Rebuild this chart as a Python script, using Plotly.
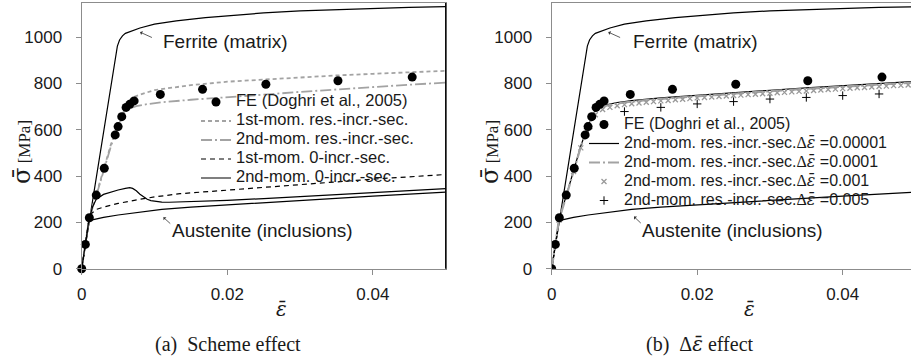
import plotly.graph_objects as go

# ---------------- data (strain, stress in MPa) ----------------
# FE reference points (Doghri et al., 2005)
fe_eps = [0, 0.0005, 0.00105, 0.002, 0.0031, 0.0046, 0.005, 0.0055, 0.0061, 0.0066, 0.0072,
          0.0108, 0.0166, 0.0253, 0.0352, 0.0454, 0.0502]
fe_sig = [0, 105, 220, 318, 434, 578, 614, 657, 697, 710, 725,
          753, 775, 797, 812, 828, 833]

# Ferrite (matrix) phase response
fer_eps = [0, 0.0046, 0.0049, 0.0052, 0.0056, 0.006, 0.007, 0.008, 0.01, 0.013, 0.017, 0.02,
           0.025, 0.03, 0.035, 0.04, 0.045, 0.05]
fer_sig = [0, 920, 962, 988, 1006, 1017, 1030, 1040, 1057, 1071, 1085, 1093,
           1105, 1114, 1120, 1125, 1129, 1132]

# Austenite (inclusions) phase response
aus_eps = [0, 0.00102, 0.0013, 0.002, 0.003, 0.005, 0.008, 0.011, 0.015, 0.02, 0.025, 0.03,
           0.035, 0.04, 0.045, 0.05]
aus_sig = [0, 204, 210, 216, 222, 232, 245, 256, 266, 276, 286, 296, 305, 314, 322, 331]

# (a) scheme comparison
m1_res_eps = [0, 0.001, 0.002, 0.003, 0.004, 0.005, 0.006, 0.0065, 0.007, 0.008, 0.01, 0.015,
              0.02, 0.025, 0.03, 0.035, 0.04, 0.045, 0.05]
m1_res_sig = [0, 214, 320, 428, 535, 630, 695, 725, 740, 752, 772, 793,
              808, 818, 827, 835, 842, 849, 855]

m2_res_eps = [0, 0.001, 0.002, 0.003, 0.004, 0.005, 0.0058, 0.0065, 0.0075, 0.009, 0.011,
              0.015, 0.02, 0.025, 0.03, 0.035, 0.04, 0.045, 0.05]
m2_res_sig = [0, 212, 315, 425, 528, 618, 672, 692, 702, 711, 719,
              730, 740, 752, 764, 775, 785, 795, 804]

m1_zero_eps = [0, 0.001, 0.0014, 0.002, 0.003, 0.005, 0.008, 0.01, 0.0135, 0.02, 0.025, 0.03,
               0.035, 0.04, 0.045, 0.05]
m1_zero_sig = [0, 212, 240, 256, 266, 282, 300, 310, 324, 340, 352, 364,
               376, 387, 397, 407]

m2_zero_eps = [0, 0.001, 0.0015, 0.002, 0.003, 0.004, 0.005, 0.006, 0.0066, 0.007, 0.0075,
               0.008, 0.0085, 0.009, 0.0095, 0.01, 0.011, 0.012, 0.015, 0.02, 0.025, 0.03,
               0.035, 0.04, 0.045, 0.05]
m2_zero_sig = [0, 212, 268, 300, 321, 332, 340, 347, 350, 347, 337,
               322, 310, 300, 294, 291, 288, 287, 289, 295, 303, 312,
               320, 328, 337, 346]

# (b) increment size comparison, 2nd-moment res.-incr.-sec.
d1_eps = [0, 0.001, 0.002, 0.003, 0.004, 0.005, 0.0058, 0.0065, 0.0075, 0.009, 0.011, 0.015,
          0.02, 0.025, 0.03, 0.035, 0.04, 0.045, 0.05]
d1_sig = [0, 212, 315, 425, 530, 620, 675, 697, 708, 718, 726, 738,
          750, 761, 771, 781, 791, 800, 809]

d2_eps = [0, 0.001, 0.002, 0.003, 0.004, 0.005, 0.0058, 0.0065, 0.0075, 0.009, 0.011, 0.015,
          0.02, 0.025, 0.03, 0.035, 0.04, 0.045, 0.05]
d2_sig = [0, 211, 313, 423, 527, 616, 671, 693, 704, 714, 722, 734,
          746, 757, 767, 777, 787, 796, 805]

d3_eps = [0, 0.001, 0.002, 0.003, 0.004, 0.005, 0.006, 0.007, 0.008, 0.009, 0.010,
          0.011, 0.012, 0.013, 0.014, 0.015, 0.016, 0.017, 0.018, 0.019, 0.020,
          0.021, 0.022, 0.023, 0.024, 0.025, 0.026, 0.027, 0.028, 0.029, 0.030,
          0.031, 0.032, 0.033, 0.034, 0.035, 0.036, 0.037, 0.038, 0.039, 0.040,
          0.041, 0.042, 0.043, 0.044, 0.045, 0.046, 0.047, 0.048, 0.049, 0.050]
d3_sig = [0, 210, 312, 420, 522, 610, 665, 688, 697, 704, 709,
          713, 716, 719, 722, 725, 727, 730, 732, 735, 738,
          740, 742, 744, 746, 748, 750, 752, 754, 756, 758,
          760, 762, 764, 766, 768, 770, 772, 774, 776, 778,
          780, 782, 783, 785, 787, 789, 791, 792, 794, 796]

d4_eps = [0, 0.005, 0.01, 0.015, 0.02, 0.025, 0.03, 0.035, 0.04, 0.045, 0.05]
d4_sig = [0, 605, 679, 697, 712, 722, 733, 740, 748, 755, 761]

x_ticks = [0, 0.02, 0.04]
x_tick_text = ["0", "0.02", "0.04"]
y_ticks = [0, 200, 400, 600, 800, 1000]
y_tick_text = ["0", "200", "400", "600", "800", "1000"]

# ---------------- styling ----------------
SANS = "Liberation Sans, Arial, sans-serif"
SERIF = "Liberation Serif, Times New Roman, serif"
MARKF = "DejaVu Serif, serif"          # handles the combining macron cleanly
GRAY = "#a3a3a3"
AXIS_GRAY = "#8c8c8c"
TXT = "#1a1a1a"
W, H = 911, 363

EPS_BAR = f'<span style="font-family:{MARKF}"><i>ε̄</i></span>'
SIG_BAR = f'<span style="font-family:{MARKF};font-size:24px">σ̄</span>'


def leg(label, size=16.5):
    return f'<span style="font-size:{size}px">{label}</span>'


def dlabel(value):
    return leg(f'2nd-mom. res.-incr.-sec.<span style="font-family:{SERIF}">Δ</span>{EPS_BAR} ={value}', 16)


fig = go.Figure()

for xa, ya in (("x", "y"), ("x2", "y2")):
    fig.add_trace(go.Scatter(x=fer_eps, y=fer_sig, mode="lines", xaxis=xa, yaxis=ya,
                             line=dict(color="black", width=1.2), showlegend=False, hoverinfo="skip"))
    fig.add_trace(go.Scatter(x=aus_eps, y=aus_sig, mode="lines", xaxis=xa, yaxis=ya,
                             line=dict(color="black", width=1.2), showlegend=False, hoverinfo="skip"))

# panel (a)
fig.add_trace(go.Scatter(x=m1_res_eps, y=m1_res_sig, mode="lines", name=leg("1st-mom. res.-incr.-sec."),
                         line=dict(color=GRAY, width=1.8, dash="4px,3px"), legend="legend", legendrank=2))
fig.add_trace(go.Scatter(x=m2_res_eps, y=m2_res_sig, mode="lines", name=leg("2nd-mom. res.-incr.-sec."),
                         line=dict(color=GRAY, width=1.8, dash="11px,3px,2px,3px"), legend="legend", legendrank=3))
fig.add_trace(go.Scatter(x=m1_zero_eps, y=m1_zero_sig, mode="lines", name=leg("1st-mom. 0-incr.-sec."),
                         line=dict(color="black", width=1.2, dash="5px,4px"), legend="legend", legendrank=4))
fig.add_trace(go.Scatter(x=m2_zero_eps, y=m2_zero_sig, mode="lines", name=leg("2nd-mom. 0-incr.-sec."),
                         line=dict(color="black", width=1.2), legend="legend", legendrank=5))
fig.add_trace(go.Scatter(x=fe_eps, y=fe_sig, mode="markers", name=leg("FE (Doghri et al., 2005)"),
                         marker=dict(color="black", size=9, symbol="circle"), cliponaxis=False,
                         legend="legend", legendrank=1))

# panel (b)
fig.add_trace(go.Scatter(x=d1_eps, y=d1_sig, mode="lines", xaxis="x2", yaxis="y2", name=dlabel("0.00001"),
                         line=dict(color="black", width=1.2), legend="legend2", legendrank=2))
fig.add_trace(go.Scatter(x=d2_eps, y=d2_sig, mode="lines", xaxis="x2", yaxis="y2", name=dlabel("0.0001"),
                         line=dict(color=GRAY, width=2.2, dash="11px,3px,2px,3px"), legend="legend2", legendrank=3))
fig.add_trace(go.Scatter(x=d3_eps, y=d3_sig, mode="markers", xaxis="x2", yaxis="y2", name=dlabel("0.001"),
                         marker=dict(symbol="x-thin-open", size=5, color="#999999",
                                     line=dict(color="#999999", width=1.3)),
                         legend="legend2", legendrank=4))
fig.add_trace(go.Scatter(x=d4_eps, y=d4_sig, mode="markers", xaxis="x2", yaxis="y2", name=dlabel("0.005"),
                         marker=dict(symbol="cross-thin-open", size=6, color="black",
                                     line=dict(color="black", width=1)),
                         legend="legend2", legendrank=5))
fig.add_trace(go.Scatter(x=fe_eps, y=fe_sig, mode="markers", xaxis="x2", yaxis="y2",
                         name=leg("FE (Doghri et al., 2005)", 16),
                         marker=dict(color="black", size=9, symbol="circle"), legend="legend2", legendrank=1))

# ---------------- axes ----------------
ydom = [1 - 268.7 / H, 1 - 3 / H]
common_x = dict(tickvals=x_ticks, ticktext=x_tick_text, ticks="outside", ticklen=5, tickcolor=AXIS_GRAY,
                showline=True, linecolor=AXIS_GRAY, linewidth=1.3, mirror=True, showgrid=False,
                zeroline=False, tickfont=dict(family=SANS, size=17, color=TXT), ticklabelstandoff=5,
                automargin=False)
common_y = dict(tickvals=y_ticks, ticktext=y_tick_text, ticks="outside", ticklen=5, tickcolor=AXIS_GRAY,
                showline=True, linecolor=AXIS_GRAY, linewidth=1.3, mirror=True, showgrid=False,
                zeroline=False, tickfont=dict(family=SANS, size=17, color=TXT), ticklabelstandoff=10,
                range=[0, 1148], domain=ydom, automargin=False)

fig.update_layout(
    xaxis=dict(common_x, domain=[81.7 / W, 445.7 / W], range=[0, 0.05], anchor="y"),
    yaxis=dict(common_y, anchor="x"),
    xaxis2=dict(common_x, domain=[551.7 / W, 1.0], range=[0, (W - 551.7) / 7275], anchor="y2"),
    yaxis2=dict(common_y, anchor="x2"),
    width=W, height=H, margin=dict(l=0, r=0, t=0, b=0, autoexpand=False),
    paper_bgcolor="white", plot_bgcolor="white",
    legend=dict(x=196 / W, y=1 - 87.5 / H, xanchor="left", yanchor="top", bgcolor="rgba(0,0,0,0)",
                font=dict(family=SANS, size=11, color=TXT), itemwidth=30, tracegroupgap=0),
    legend2=dict(x=584 / W, y=1 - 110 / H, xanchor="left", yanchor="top", bgcolor="rgba(0,0,0,0)",
                 font=dict(family=SANS, size=11, color=TXT), itemwidth=30, tracegroupgap=0),
)

# right-hand frame edge of panel (a)
fig.add_shape(type="line", xref="x domain", yref="y domain", x0=1, x1=1, y0=0, y1=1,
              line=dict(color="black", width=1.3))

# ---------------- annotations ----------------
ann = []
for xr, yr, tip_f, tail_f, tip_a, tail_a, tx_f, tx_a in (
    ("x", "y", (0.00802, 1022), (0.00985, 996), (0.01122, 222), (0.01237, 189), 0.01977, 0.02478),
    ("x2", "y2", (0.00778, 1022), (0.00961, 996), (0.01131, 225), (0.01245, 191), 0.01981, 0.02485),
):
    ann.append(dict(xref=xr, yref=yr, x=tx_f, y=980, text="Ferrite (matrix)", showarrow=False,
                    xanchor="center", yanchor="middle", font=dict(family=SANS, size=19, color=TXT)))
    ann.append(dict(xref=xr, yref=yr, x=tx_a, y=166, text="Austenite (inclusions)", showarrow=False,
                    xanchor="center", yanchor="middle", font=dict(family=SANS, size=19, color=TXT)))
    for tip, tail in ((tip_f, tail_f), (tip_a, tail_a)):
        ann.append(dict(xref=xr, yref=yr, x=tip[0], y=tip[1], axref=xr, ayref=yr, ax=tail[0], ay=tail[1],
                        text="", showarrow=True, arrowhead=1, arrowsize=0.9, arrowwidth=0.8,
                        arrowcolor="#333333"))

# axis titles and captions
for cx in (22, 490):
    ann.append(dict(xref="paper", yref="paper", x=cx / W, y=1 - 152 / H, textangle=-90,
                    xanchor="center", yanchor="middle",
                    text=f'{SIG_BAR} [MPa]', showarrow=False,
                    font=dict(family=SERIF, size=17, color=TXT)))
for cx in (281, 749):
    ann.append(dict(xref="paper", yref="paper", x=cx / W, y=1 - 309 / H, text=EPS_BAR, showarrow=False,
                    xanchor="center", yanchor="middle", font=dict(family=SERIF, size=20, color=TXT)))
ann.append(dict(xref="paper", yref="paper", x=228 / W, y=1 - 344 / H, text="(a)  Scheme effect",
                xanchor="center", yanchor="middle",
                showarrow=False, font=dict(family=SERIF, size=20, color=TXT)))
ann.append(dict(xref="paper", yref="paper", x=700 / W, y=1 - 344 / H, text=f"(b)  Δ{EPS_BAR} effect",
                xanchor="center", yanchor="middle",
                showarrow=False, font=dict(family=SERIF, size=20, color=TXT)))

fig.update_layout(annotations=ann)
fig.write_html("out.html")
